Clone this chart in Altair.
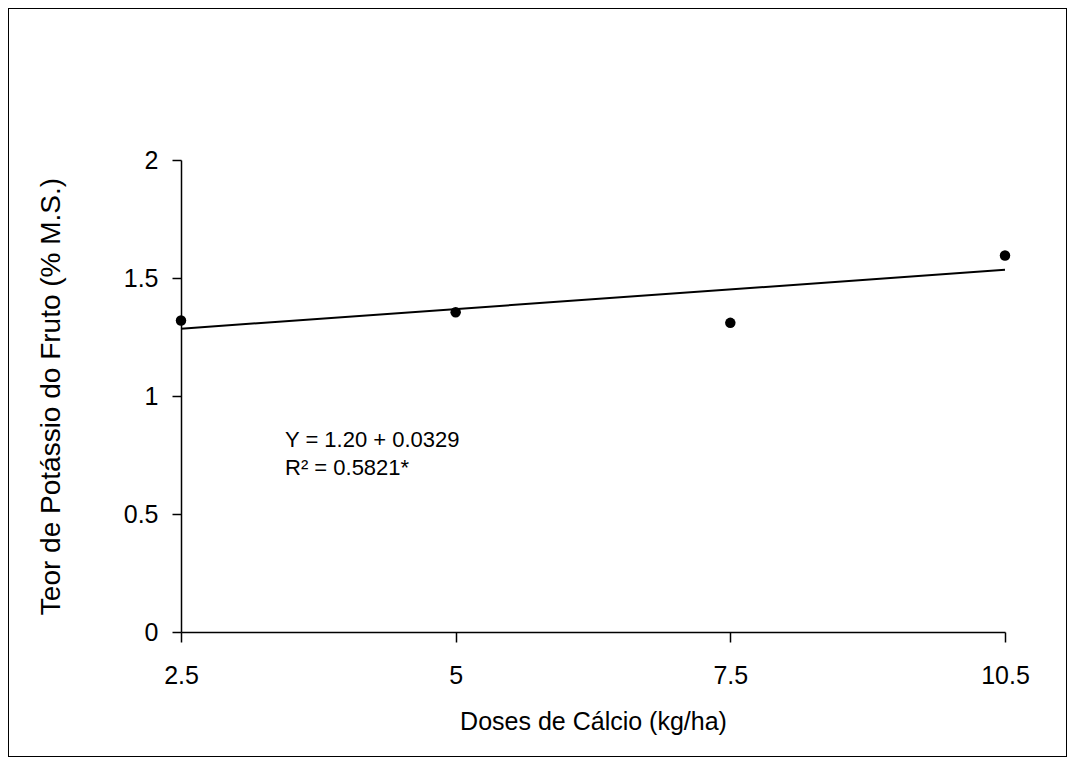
import altair as alt
import pandas as pd

doses = ["2.5", "5", "7.5", "10.5"]
teor = [1.32, 1.355, 1.31, 1.595]
line_x = ["2.5", "10.5"]
line_y = [1.285, 1.535]
eq_lines = ["Y = 1.20 + 0.0329", "R² = 0.5821*"]

pts = pd.DataFrame({"dose": doses, "teor": teor})
reg = pd.DataFrame({"dose": line_x, "teor": line_y})

FONT = "Liberation Sans"
W, H = 824, 472

xenc = alt.X("dose:O", sort=doses,
             scale=alt.Scale(type="point", padding=0, domain=doses),
             axis=alt.Axis(title="Doses de Cálcio (kg/ha)", labelAngle=0,
                           labelPadding=21, titlePadding=21,
                           tickSize=10, grid=False))
yenc = alt.Y("teor:Q", scale=alt.Scale(domain=[0, 2]),
             axis=alt.Axis(title="Teor de Potássio do Fruto (% M.S.)",
                           values=[0, 0.5, 1, 1.5, 2],
                           tickSize=9, labelPadding=14, titleFontSize=28,
                           titlePadding=58, grid=False,
                           labelExpr="datum.value == 0 ? '0' : format(datum.value, '~g')"))

border = alt.Chart(pd.DataFrame({"a": [0]})).mark_rect(
    fill=None, stroke="black", strokeWidth=2, clip=False
).encode(x=alt.value(-173), x2=alt.value(886), y=alt.value(-152), y2=alt.value(597))

line = alt.Chart(reg).mark_line(color="black", strokeWidth=2).encode(x=xenc, y=yenc)
points = alt.Chart(pts).mark_circle(color="black", opacity=1, size=110).encode(x=xenc, y=yenc)

def eq_text(s, ypix):
    return alt.Chart(pd.DataFrame({"txt": [s]})).mark_text(
        align="left", baseline="middle", fontSize=22, font=FONT, color="black"
    ).encode(x=alt.value(104), y=alt.value(ypix), text="txt:N")

text1 = eq_text(eq_lines[0], 280)
text2 = eq_text(eq_lines[1], 308)

chart = alt.layer(border, line, points, text1, text2).properties(
    width=W, height=H,
    background="white",
    autosize=alt.AutoSizeParams(type="none"),
    padding={"left": 173, "top": 152, "right": 62, "bottom": 125},
).configure_view(stroke=None).configure_axis(
    domainColor="black", domainWidth=1.5, tickColor="black", tickWidth=1.5,
    labelColor="black", titleColor="black", labelFont=FONT, titleFont=FONT,
    titleFontWeight="normal", labelFontSize=25, titleFontSize=25
)

chart.save("out.html", embed_options={"renderer": "svg", "actions": False})
